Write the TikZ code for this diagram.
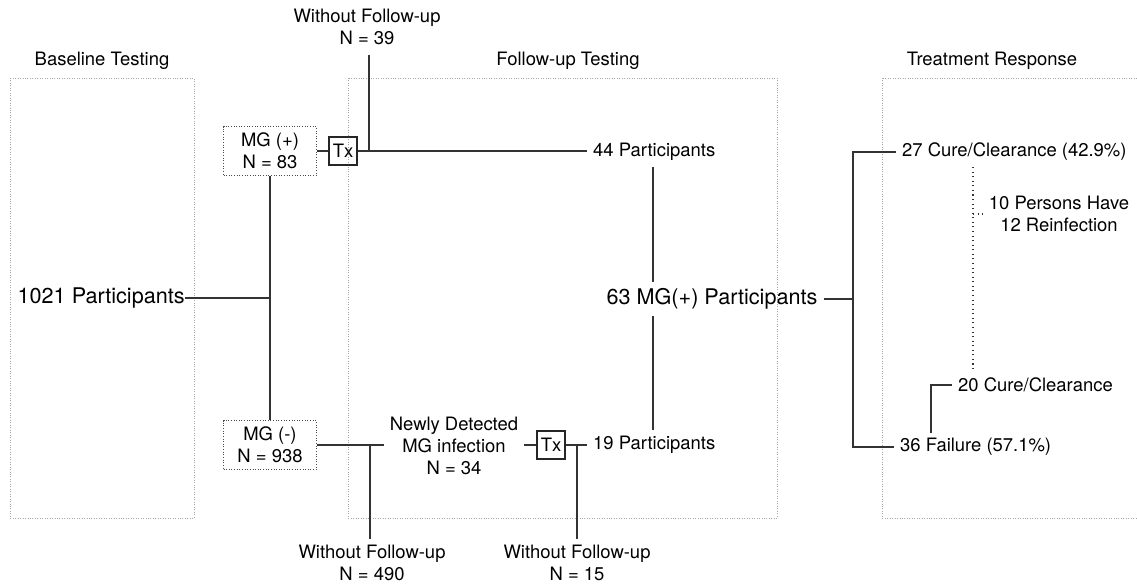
\documentclass[tikz,border=0pt]{standalone}
\usepackage{fontspec}
\setmainfont{TeX Gyre Heros}
\begin{document}
\begin{tikzpicture}[x=0.02cm,y=-0.02cm,
	frame/.style={draw=gray!70,densely dotted,line width=0.4pt},
	group/.style={draw=black!70,densely dotted,line width=0.5pt,minimum width=1.86cm,minimum height=0.98cm,align=center},
	txbox/.style={draw=black!85,line width=0.7pt,minimum size=0.56cm,inner sep=1pt},
	link/.style={draw=black!80,line width=0.75pt},
	reinf/.style={draw=black!80,dotted,line width=0.6pt}]
\tikzstyle{every node}=[font=\fontsize{10.5}{12.5}\selectfont,align=center]
	\useasboundingbox (0,0) rectangle (1137,585);

	% the three stages
	\draw[frame] (10,78) rectangle (194,518);
	\draw[frame] (348,78) rectangle (777,518);
	\draw[frame] (882,78) rectangle (1150,518);
	\node (base) at (102,61) {Baseline Testing};
	\node (fup) at (568,61) {Follow-up Testing};
	\node (resp) at (992,61) {Treatment Response};

	% baseline
	\node[anchor=east,inner sep=0pt,font=\fontsize{12.3}{14}\selectfont] (all) at (185,298) {1021 Participants};
	\node[group] (pos) at (270,151) {MG (+)\\N = 83};
	\node[group] (neg) at (270,445) {MG (-)\\N = 938};
	\draw[link] (pos.south) -- (neg.north);
	\draw[link] (all.east) -- (all.east -| pos.south);

	% follow-up, upper branch
	\node[txbox] (tx1) at (343,151) {Tx};
	\node (lost1) at (367,27) {Without Follow-up\\N = 39};
	\node[anchor=west] (p44) at (587,152) {44 Participants};
	\draw[link] (pos.east) -- (tx1.west);
	\draw[link] (tx1.east) -- (tx1.east -| p44.west);
	\coordinate (j1) at (369,151);
	\draw[link,shorten <=2pt] (lost1.south -| j1) -- (j1);

	% follow-up, lower branch
	\node (new) at (454,446) {Newly Detected\\MG infection\\N = 34};
	\node[txbox] (tx2) at (551,445) {Tx};
	\node[anchor=west] (p19) at (587,445) {19 Participants};
	\node (lost2) at (372,563) {Without Follow-up\\N = 490};
	\node (lost3) at (577,563) {Without Follow-up\\N = 15};
	\draw[link] (neg.east) -- (new.west |- neg.east);
	\draw[link] (new.east |- tx2.west) -- (tx2.west);
	\draw[link] (tx2.east) -- (p19.west);
	\coordinate (j2) at (370,445);
	\coordinate (j3) at (577,445);
	\draw[link] (lost2.north -| j2) -- (j2);
	\draw[link] (lost3.north) -- (j3);

	% pooled
	\node[font=\fontsize{12.3}{14}\selectfont] (p63) at (712,299) {63 MG(+) Participants};
	\coordinate (mx) at (653,0);
	\draw[link] (p44.south -| mx) -- (p63.north -| mx);
	\draw[link] (p19.north -| mx) -- (p63.south -| mx);

	% treatment response
	\node[anchor=west] (cure) at (896,152) {27 Cure/Clearance (42.9\%)};
	\node[anchor=west] (fail) at (894,447) {36 Failure (57.1\%)};
	\node[anchor=west] (cure2) at (952,385) {20 Cure/Clearance};
	\node (reinfect) at (1059,214) {10 Persons Have\\12 Reinfection};
	\coordinate (split) at (853,299);
	\draw[link] (p63.east) -- (split);
	\draw[link] (cure.west) -| (split) |- (fail.west);
	\coordinate (up) at (931,433);
	\draw[link] (up) |- (cure2.west);
	\coordinate (rx) at (973,0);
	\draw[reinf] (cure.south -| rx) -- (cure2.north -| rx);
	\draw[reinf] (reinfect.west -| rx) -- (reinfect.west);
\end{tikzpicture}
\end{document}
